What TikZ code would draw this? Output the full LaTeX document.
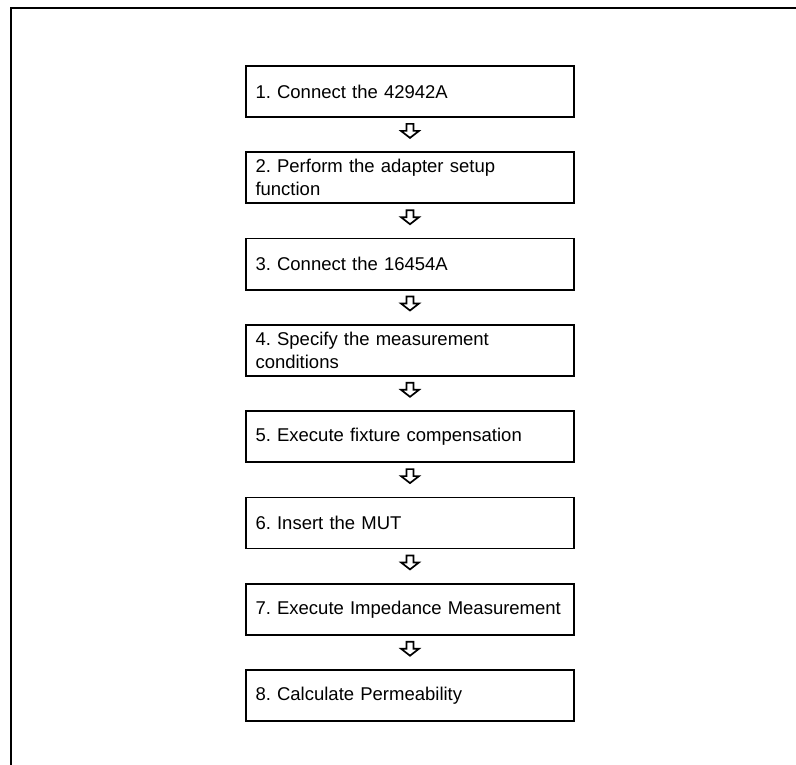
\documentclass[tikz,border=0pt]{standalone}
\usepackage{fontspec}
\setmainfont{Liberation Sans}
\frenchspacing
\hyphenpenalty=10000
\begin{document}
\begin{tikzpicture}[x=1pt,y=-1pt,
  stepbox/.style={draw=black,line width=1.8pt,rectangle,text width=309pt,inner xsep=9.5pt,inner ysep=0pt,
    minimum height=51pt,align=left,anchor=center,font=\fontsize{18.5}{23}\selectfont},
  hollowarrow/.style={draw=black,line width=1.7pt,line join=miter,fill=white},
  frameline/.style={draw=black,line width=1.8pt}]
\useasboundingbox (0,0) rectangle (796,765);
\draw[frameline] (796,8) -- (11,8) -- (11,765);
\node[stepbox] (b1) at (410,91.5) {1. Connect the 42942A};
\node[stepbox] (b2) at (410,177.8) {2. Perform the adapter setup\\function};
\node[stepbox] (b3) at (410,264.1) {3. Connect the 16454A};
\node[stepbox] (b4) at (410,350.4) {4. Specify the measurement\\conditions};
\node[stepbox] (b5) at (410,436.7) {5. Execute fixture compensation};
\node[stepbox] (b6) at (410,523.0) {6. Insert the MUT};
\node[stepbox] (b7) at (410,609.3) {7. Execute Impedance Measurement};
\node[stepbox] (b8) at (410,695.6) {8. Calculate Permeability};
\foreach \n in {b1,b2,b3,b4,b5,b6,b7}{
  \draw[hollowarrow] (\n.south) ++(-3.5,6) -- ++(0,7) -- ++(-5.5,0) -- ++(9,7) -- ++(9,-7) -- ++(-5.5,0) -- ++(0,-7) -- cycle;
}
\end{tikzpicture}
\end{document}
